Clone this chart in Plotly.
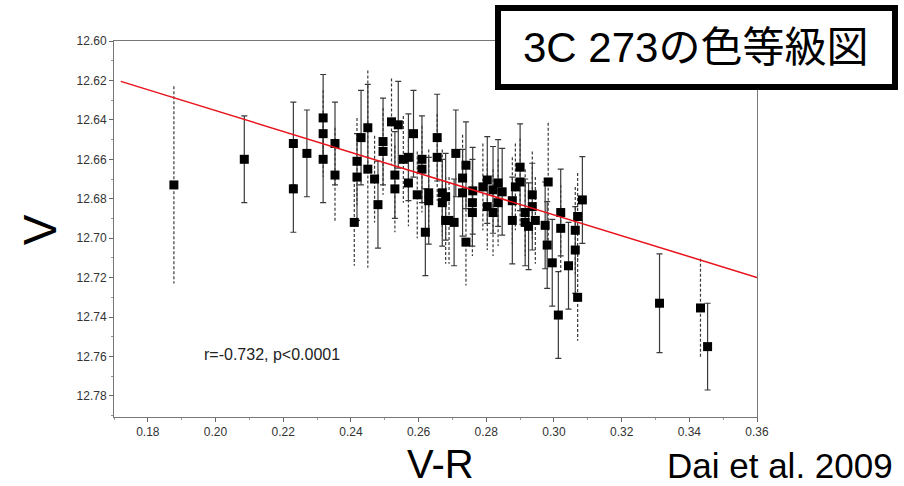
import plotly.graph_objects as go

# V-R colour, V magnitude, error and whether the error bar is drawn dashed
v_r = [
    0.1877, 0.2085, 0.2230, 0.2230, 0.2270, 0.2318, 0.2318, 0.2318, 0.2353, 0.2353,
    0.2410, 0.2418, 0.2418, 0.2430, 0.2450, 0.2450, 0.2470, 0.2480, 0.2495, 0.2495,
    0.2520, 0.2530, 0.2530, 0.2540, 0.2555, 0.2570, 0.2570, 0.2585, 0.2596, 0.2610,
    0.2610, 0.2620, 0.2630, 0.2630, 0.2655, 0.2655, 0.2670, 0.2670, 0.2690, 0.2680,
    0.2680, 0.2705, 0.2710, 0.2730, 0.2730, 0.2740, 0.2740, 0.2759, 0.2759, 0.2760,
    0.2790, 0.2803, 0.2803, 0.2820, 0.2820, 0.2835, 0.2835, 0.2847, 0.2877, 0.2877,
    0.2886, 0.2900, 0.2900, 0.2915, 0.2915, 0.2925, 0.2936, 0.2936, 0.2945, 0.2974,
    0.2983, 0.2980, 0.2995, 0.3013, 0.3020, 0.3020, 0.3043, 0.3063, 0.3063, 0.3070,
    0.3070, 0.3084, 0.3312, 0.3433, 0.3454,
]
v_mag = [
    12.673, 12.660, 12.652, 12.675, 12.657, 12.639, 12.647, 12.660, 12.652, 12.668,
    12.692, 12.669, 12.661, 12.649, 12.644, 12.665, 12.670, 12.683, 12.656, 12.651,
    12.641, 12.668, 12.675, 12.6425, 12.660, 12.659, 12.672, 12.647, 12.678, 12.660,
    12.665, 12.697, 12.677, 12.681, 12.659, 12.649, 12.677, 12.682, 12.691, 12.679,
    12.691, 12.692, 12.657, 12.6695, 12.677, 12.663, 12.702, 12.682, 12.687, 12.676,
    12.674, 12.6705, 12.684, 12.6755, 12.687, 12.672, 12.682, 12.6765, 12.681, 12.691,
    12.674, 12.664, 12.6715, 12.692, 12.687, 12.694, 12.678, 12.684, 12.691, 12.6935,
    12.6715, 12.7035, 12.7125, 12.739, 12.695, 12.687, 12.714, 12.696, 12.706, 12.689,
    12.730, 12.6806, 12.733, 12.7354, 12.755,
]
v_err = [
    0.050, 0.022, 0.021, 0.022, 0.022, 0.022, 0.022, 0.022, 0.021, 0.024,
    0.022, 0.022, 0.022, 0.024, 0.022, 0.050, 0.022, 0.022, 0.022, 0.022,
    0.022, 0.022, 0.022, 0.022, 0.022, 0.022, 0.022, 0.022, 0.022, 0.022,
    0.022, 0.022, 0.022, 0.022, 0.022, 0.022, 0.022, 0.022, 0.022, 0.022,
    0.022, 0.022, 0.022, 0.022, 0.022, 0.022, 0.022, 0.022, 0.022, 0.022,
    0.022, 0.022, 0.022, 0.022, 0.022, 0.022, 0.022, 0.022, 0.022, 0.022,
    0.022, 0.022, 0.022, 0.022, 0.022, 0.022, 0.022, 0.022, 0.022, 0.022,
    0.030, 0.022, 0.022, 0.022, 0.022, 0.022, 0.022, 0.022, 0.022, 0.022,
    0.022, 0.022, 0.025, 0.025, 0.022,
]
dashed = [
    1, 0, 0, 0, 0, 0, 1, 0, 0, 1,
    1, 0, 1, 0, 0, 1, 1, 0, 1, 0,
    1, 0, 1, 0, 1, 0, 1, 0, 1, 0,
    1, 0, 1, 0, 1, 0, 1, 0, 1, 0,
    1, 0, 0, 1, 0, 0, 1, 0, 1, 0,
    1, 0, 1, 0, 1, 0, 1, 0, 1, 0,
    1, 0, 1, 0, 1, 0, 1, 0, 1, 0,
    1, 0, 0, 0, 1, 0, 0, 1, 0, 1,
    1, 0, 0, 1, 0,
]

# regression line V = intercept + slope * (V-R)
fit_slope = 0.529
fit_intercept = 12.5295
fit_x = [0.172, 0.36]

x_ticks = [0.18, 0.20, 0.22, 0.24, 0.26, 0.28, 0.30, 0.32, 0.34, 0.36]
y_ticks = [12.60, 12.62, 12.64, 12.66, 12.68, 12.70, 12.72, 12.74, 12.76, 12.78]

bar_color = "#3a3a3a"

# dashed error bars are drawn as line segments
dash_x, dash_y = [], []
for x, y, e, d in zip(v_r, v_mag, v_err, dashed):
    if d:
        dash_x += [x, x, None]
        dash_y += [y - e, y + e, None]

solid = [i for i, d in enumerate(dashed) if not d]
dash_idx = [i for i, d in enumerate(dashed) if d]

fig = go.Figure()
fig.add_trace(go.Scatter(
    x=dash_x, y=dash_y, mode="lines",
    line=dict(color=bar_color, width=1.2, dash="3px,2px"),
    hoverinfo="skip",
))
# caps for dashed bars
fig.add_trace(go.Scatter(
    x=[v_r[i] for i in dash_idx], y=[v_mag[i] for i in dash_idx], mode="markers",
    marker=dict(size=1, color="rgba(0,0,0,0)"),
    error_y=dict(type="data", array=[v_err[i] for i in dash_idx],
                 color=bar_color, thickness=0.01, width=3),
    hoverinfo="skip",
))
fig.add_trace(go.Scatter(
    x=[v_r[i] for i in solid], y=[v_mag[i] for i in solid], mode="markers",
    marker=dict(size=1, color="rgba(0,0,0,0)"),
    error_y=dict(type="data", array=[v_err[i] for i in solid],
                 color=bar_color, thickness=1.2, width=3),
    hoverinfo="skip",
))
fig.add_trace(go.Scatter(
    x=v_r, y=v_mag, mode="markers",
    marker=dict(symbol="square", size=9, color="black"),
))
fig.add_trace(go.Scatter(
    x=fit_x, y=[fit_intercept + fit_slope * x for x in fit_x], mode="lines",
    line=dict(color="#e8121b", width=1.5),
))

axis_common = dict(
    showline=True, linecolor="#777777", linewidth=1, mirror=True,
    ticks="outside", ticklen=4, tickcolor="#666666", showgrid=False, zeroline=False,
    tickfont=dict(family="Liberation Sans Narrow, Liberation Sans, Arial", size=12, color="#333333"),
    minor=dict(ticks="outside", ticklen=2, tickcolor="#999999"),
)

fig.update_layout(
    width=904, height=486,
    margin=dict(l=114, r=147, t=41, b=69),
    paper_bgcolor="white", plot_bgcolor="white",
    showlegend=False,
    xaxis=dict(range=[0.17, 0.36], tickvals=x_ticks,
               ticktext=[f"{t:.2f}" for t in x_ticks],
               minor_dtick=0.01, **axis_common),
    yaxis=dict(range=[12.7907, 12.60], tickvals=y_ticks,
               ticktext=[f"{t:.2f}" for t in y_ticks],
               minor_dtick=0.01, **axis_common),
    shapes=[dict(type="rect", xref="paper", yref="paper",
                 x0=0.5972, x1=1.2146, y0=0.8777, y1=1.0878,
                 line=dict(color="black", width=6), fillcolor="white", layer="above")],
    annotations=[
        dict(text="3C 273の色等級図", xref="paper", yref="paper", x=0.905, y=0.983,
             showarrow=False, xanchor="center", yanchor="middle",
             font=dict(family="Liberation Sans, Noto Sans CJK JP", size=42, color="black")),
        dict(text="r=-0.732, p<0.0001", xref="paper", yref="paper", x=0.137, y=0.165,
             showarrow=False, xanchor="left", yanchor="middle",
             font=dict(family="Liberation Sans Narrow, Liberation Sans, Arial", size=16, color="#222222")),
        dict(text="V", xref="paper", yref="paper", x=-0.115, y=0.497, textangle=-90,
             showarrow=False, xanchor="center", yanchor="middle",
             font=dict(family="Liberation Sans, Arial", size=46, color="black")),
        dict(text="V-R", xref="paper", yref="paper", x=0.507, y=-0.1862,
             showarrow=False, xanchor="center", yanchor="bottom", borderpad=0,
             font=dict(family="Liberation Sans, Arial", size=40, color="black")),
        dict(text="Dai et al. 2009", xref="paper", yref="paper", x=1.214, y=-0.128,
             showarrow=False, xanchor="right", yanchor="middle",
             font=dict(family="Liberation Sans, Arial", size=35, color="black")),
    ],
)

fig.write_html("out.html", config={"displayModeBar": False},
               post_script="document.body.style.margin='0';")
